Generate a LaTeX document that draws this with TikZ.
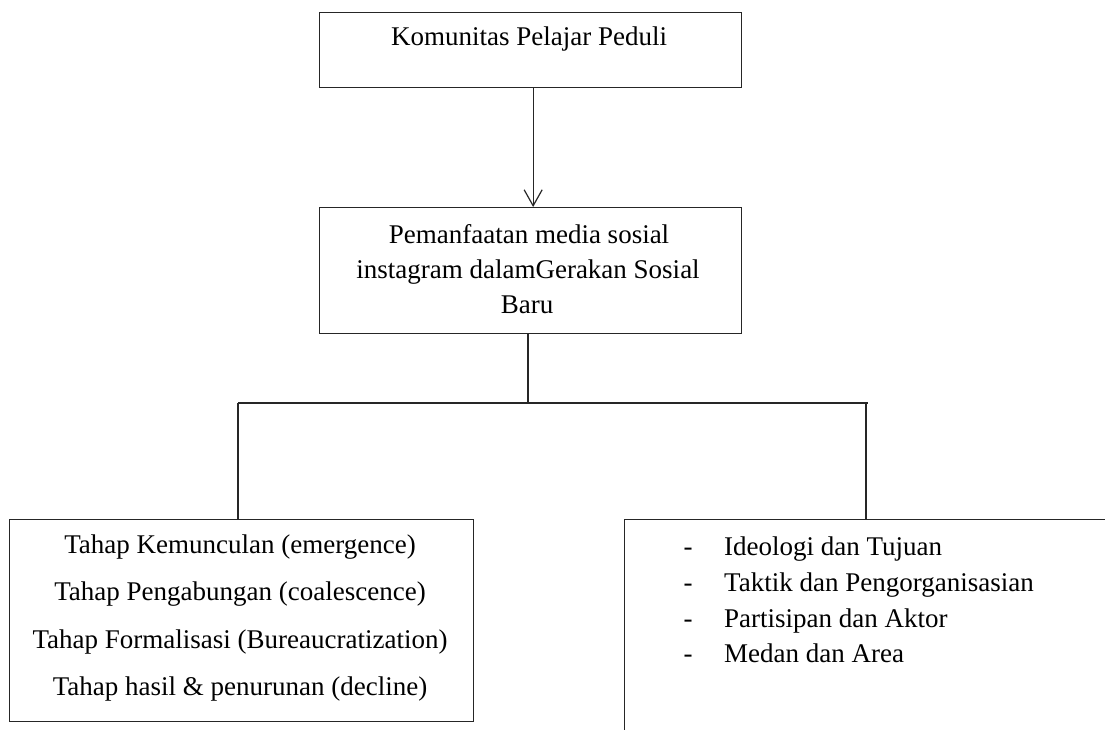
\documentclass[tikz,border=0pt]{standalone}
\usepackage{fontspec}
\setmainfont{Liberation Serif}
\usetikzlibrary{arrows.meta}
\tikzset{
  box/.style={draw=black!85, line width=1.3pt, rectangle, anchor=north west, inner sep=0pt},
  conn/.style={draw=black!85, line width=1.2pt},
  txt/.style={anchor=base, inner sep=0pt, font=\fontsize{27}{33}\selectfont},
  ltxt/.style={anchor=base west, inner sep=0pt, font=\fontsize{27}{33}\selectfont},
}
\begin{document}
\begin{tikzpicture}[x=1pt,y=-1pt]
\clip (0,0) rectangle (1105,729);
\fill[white] (0,0) rectangle (1105,729);
% boxes
\node[box, minimum width=422pt, minimum height=75pt] (top) at (319,12) {};
\node[box, minimum width=422pt, minimum height=126pt] (mid) at (319,207) {};
\node[box, minimum width=464pt, minimum height=202pt] (left) at (9,519) {};
\node[box, minimum width=520pt, minimum height=260pt] (right) at (624,519) {};
% texts
\node[txt] (t1) at (529,45) {Komunitas Pelajar Peduli};
\node[txt] (m1) at (529,243) {Pemanfaatan media sosial};
\node[txt] (m2) at (528,278) {instagram dalamGerakan Sosial};
\node[txt] (m3) at (527,313) {Baru};
\node[txt] (l1) at (240,553) {Tahap Kemunculan (emergence)};
\node[txt] (l2) at (240,600) {Tahap Pengabungan (coalescence)};
\node[txt] (l3) at (240,648) {Tahap Formalisasi (Bureaucratization)};
\node[txt] (l4) at (240,695) {Tahap hasil \& penurunan (decline)};
\node[txt] (d1) at (688,555) {-};
\node[txt] (d2) at (688,591) {-};
\node[txt] (d3) at (688,627) {-};
\node[txt] (d4) at (688,662) {-};
\node[ltxt] (r1) at (724,555) {Ideologi dan Tujuan};
\node[ltxt] (r2) at (724,591) {Taktik dan Pengorganisasian};
\node[ltxt] (r3) at (724,627) {Partisipan dan Aktor};
\node[ltxt] (r4) at (724,662) {Medan dan Area};
% connectors
\draw[conn, -{Straight Barb[length=16pt, width=18pt, line width=1.2pt]}] ([xshift=2.5pt]top.south) -- ([xshift=2.5pt]mid.north);
\coordinate (j) at (528,403);
\coordinate (hl) at (238,403);
\coordinate (hr) at (866,403);
\draw[conn] (mid.south -| j) -- (j);
\draw[conn] (hl) -- ([xshift=2pt]hr);
\draw[conn] (hl) -- (hl |- left.north);
\draw[conn] (hr) -- (hr |- right.north);
\end{tikzpicture}
\end{document}
